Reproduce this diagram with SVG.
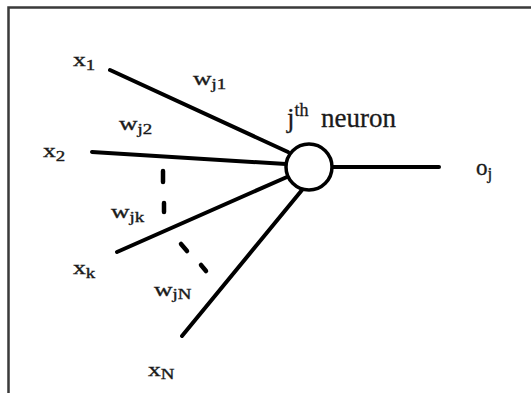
<svg xmlns="http://www.w3.org/2000/svg" width="531" height="393" viewBox="0 0 531 393">
<style>
text{font-family:"Liberation Serif","Times New Roman",serif}
.lbl{fill:#1a1a1a;font-size:19px;stroke:#1a1a1a;stroke-width:0.35}
.sub{font-size:14px}
.edge{stroke:#000;stroke-width:4;stroke-linecap:round;fill:none}
.dash{stroke:#000;stroke-width:4.5;stroke-linecap:round;fill:none}
</style>
<rect x="0" y="0" width="531" height="393" fill="#fff"/>
<path d="M8.5 400 V7.5 H540" fill="none" stroke="#3a3a3a" stroke-width="2.5"/>
<g id="connectors">
<line class="edge" x1="110" y1="70" x2="288" y2="152"/>
<line class="edge" x1="92" y1="152" x2="286" y2="164"/>
<line class="edge" x1="117" y1="252" x2="287" y2="177"/>
<line class="edge" x1="182" y1="336" x2="302" y2="190"/>
<line class="edge" x1="332" y1="167" x2="439" y2="167"/>
<line class="dash" x1="163" y1="171" x2="163" y2="182"/>
<line class="dash" x1="164" y1="203" x2="164" y2="212"/>
<line class="dash" x1="181" y1="244" x2="187" y2="251"/>
<line class="dash" x1="201" y1="265" x2="206" y2="271"/>
</g>
<g id="neuron">
<circle cx="309" cy="167" r="23" fill="#fff" stroke="#000" stroke-width="3.5"/>
<text class="lbl" x="287" y="127" style="font-size:27px;stroke-width:0.3">j<tspan style="font-size:18px" dy="-11">th</tspan><tspan x="321" dy="11">neuron</tspan></text>
</g>
<g id="x1"><text class="lbl" transform="translate(73,66) scale(1.35,1)">x<tspan class="sub" dy="4">1</tspan></text></g>
<g id="x2"><text class="lbl" transform="translate(43,157) scale(1.35,1)">x<tspan class="sub" dy="4">2</tspan></text></g>
<g id="xk"><text class="lbl" transform="translate(73,274) scale(1.35,1)">x<tspan class="sub" dy="4">k</tspan></text></g>
<g id="xN"><text class="lbl" transform="translate(148,376) scale(1.35,1)">x<tspan class="sub" dy="3">N</tspan></text></g>
<g id="wj1"><text class="lbl" transform="translate(193,85) scale(1.35,1)">w<tspan class="sub" dy="4">j1</tspan></text></g>
<g id="wj2"><text class="lbl" transform="translate(119,130) scale(1.35,1)">w<tspan class="sub" dy="4">j2</tspan></text></g>
<g id="wjk"><text class="lbl" transform="translate(111,218) scale(1.35,1)">w<tspan class="sub" dy="4">jk</tspan></text></g>
<g id="wjN"><text class="lbl" transform="translate(154,296) scale(1.35,1)">w<tspan class="sub" dy="3">jN</tspan></text></g>
<g id="oj"><text class="lbl" x="476" y="175" style="font-size:23px">o<tspan style="font-size:17px" dy="4">j</tspan></text></g>
</svg>
